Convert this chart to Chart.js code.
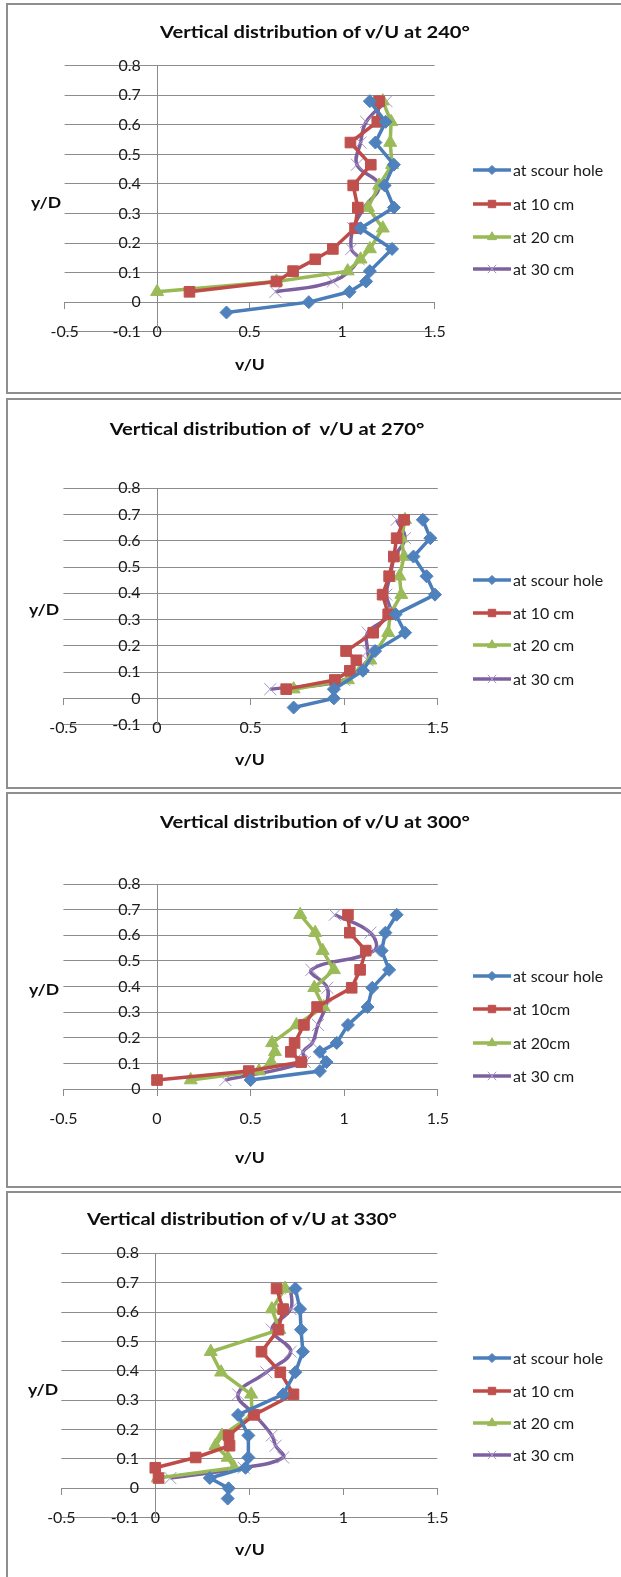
<!DOCTYPE html>
<html>
<head>
<meta charset="utf-8">
<title>Vertical distribution of v/U</title>
<script src="https://cdn.jsdelivr.net/npm/chart.js@4.4.1/dist/chart.umd.min.js"></script>
<style>
  body { margin: 0; background: #fff; }
  #page { position: relative; width: 621px; height: 1577px; overflow: hidden; font-family: Lato, "Open Sans", sans-serif; color: #0d0d0d; }
  .panel { position: absolute; left: 6px; width: 640px; border: 2px solid #8e8e8e; box-sizing: border-box; }
  canvas { position: absolute; left: 0; }
  .title { position: absolute; font-weight: bold; font-size: 17.5px; transform: translate(-50%, -50%) scaleX(1.15); white-space: pre; }
  .axis-title { position: absolute; font-weight: bold; font-size: 16px; transform: translate(-50%, -50%) scaleX(1.1); }
</style>
</head>
<body>
<div id="page">
  <div class="panel" style="top:3px;height:391px"></div>
  <div class="panel" style="top:398px;height:391px"></div>
  <div class="panel" style="top:792px;height:396px"></div>
  <div class="panel" style="top:1191px;height:400px"></div>

  <canvas id="chart240" width="621" height="395" style="top:0px"></canvas>
  <canvas id="chart270" width="621" height="395" style="top:395px"></canvas>
  <canvas id="chart300" width="621" height="399" style="top:790px"></canvas>
  <canvas id="chart330" width="621" height="388" style="top:1189px"></canvas>

  <div class="title" style="left:315px;top:31px">Vertical distribution of v/U at 240°</div>
  <div class="axis-title" style="left:46px;top:201px">y/D</div>
  <div class="axis-title" style="left:250px;top:363px">v/U</div>

  <div class="title" style="left:267px;top:428px">Vertical distribution of  v/U at 270°</div>
  <div class="axis-title" style="left:44px;top:608px">y/D</div>
  <div class="axis-title" style="left:250px;top:758px">v/U</div>

  <div class="title" style="left:315px;top:821px">Vertical distribution of v/U at 300°</div>
  <div class="axis-title" style="left:44px;top:988px">y/D</div>
  <div class="axis-title" style="left:250px;top:1156px">v/U</div>

  <div class="title" style="left:242px;top:1218px">Vertical distribution of v/U at 330°</div>
  <div class="axis-title" style="left:43px;top:1388px">y/D</div>
  <div class="axis-title" style="left:250px;top:1548px">v/U</div>
</div>
<script>
// y/D levels shared by every profile (scour hole also has two points below 0.035)
const DEPTHS = [0.035, 0.07, 0.105, 0.145, 0.18, 0.25, 0.32, 0.395, 0.465, 0.54, 0.61, 0.68];
const DEPTHS_HOLE = [-0.035, 0, 0.035, 0.07, 0.105, 0.145, 0.18, 0.25, 0.32, 0.395, 0.465, 0.54, 0.61, 0.68];

// v/U values, null = no reading at that level
const HOLE_240 = [0.375, 0.82, 1.04, 1.13, 1.15, null, 1.27, 1.10, 1.28, 1.23, 1.28, 1.18, 1.235, 1.15];
const CM10_240 = [0.175, 0.645, 0.735, 0.855, 0.95, 1.07, 1.085, 1.06, 1.155, 1.045, 1.19, 1.20];
const CM20_240 = [0.0, 0.645, 1.03, 1.10, 1.15, 1.22, 1.14, 1.20, 1.27, 1.26, 1.265, 1.22];
const CM30_240 = [0.64, 0.95, null, 1.09, 1.05, 1.06, 1.12, 1.20, 1.08, 1.10, 1.13, 1.24];

const HOLE_270 = [0.73, 0.945, 0.945, null, 1.10, null, 1.165, 1.325, 1.275, 1.485, 1.44, 1.37, 1.46, 1.42];
const CM10_270 = [0.69, 0.95, 1.03, 1.065, 1.01, 1.155, 1.235, 1.205, 1.24, 1.265, 1.28, 1.32];
const CM20_270 = [0.73, 1.02, 1.085, 1.14, null, 1.235, 1.245, 1.305, 1.295, 1.32, 1.305, 1.325];
const CM30_270 = [0.605, 1.0, null, 1.125, 1.125, 1.125, 1.245, 1.225, 1.245, 1.27, 1.325, 1.28];

const HOLE_300 = [null, null, 0.50, 0.87, 0.905, 0.87, 0.96, 1.02, 1.125, 1.15, 1.24, 1.20, 1.22, 1.28];
const CM10_300 = [0.0, 0.49, 0.77, 0.715, 0.735, 0.785, 0.855, 1.04, 1.085, 1.115, 1.03, 1.02];
const CM20_300 = [0.18, 0.545, 0.61, 0.63, 0.615, 0.745, 0.89, 0.84, 0.945, 0.885, 0.845, 0.765];
const CM30_300 = [0.365, null, 0.79, 0.78, 0.83, 0.86, 0.90, 0.91, 0.825, 1.16, 1.14, 0.95];

const HOLE_330 = [0.385, 0.39, 0.29, 0.48, 0.495, null, 0.495, 0.44, 0.68, 0.745, 0.785, 0.775, 0.77, 0.745];
const CM10_330 = [0.017, 0.0, 0.215, 0.395, 0.39, 0.525, 0.735, 0.665, 0.565, 0.655, 0.68, 0.645];
const CM20_330 = [0.013, 0.42, 0.385, 0.32, 0.355, 0.515, 0.51, 0.35, 0.295, 0.66, 0.62, 0.69];
const CM30_330 = [0.08, 0.47, 0.68, 0.64, 0.62, 0.53, 0.44, 0.59, 0.72, 0.62, 0.72, 0.72];

const LABELS_A = ['at scour hole', 'at 10 cm', 'at 20 cm', 'at 30 cm'];
const LABELS_B = ['at scour hole', 'at 10cm', 'at 20cm', 'at 30 cm'];

const X_MIN = -0.5;
const X_MAX = 1.5;
const Y_MAX = 0.8;

const GRID_COLOR = '#8c8c8c';
const TEXT_COLOR = '#1a1a1a';
const FONT = 'Lato';
const TICK_SIZE = 16;

const SERIES_STYLE = [
    { color: '#4a7ebb', point: 'rectRot', radius: 6.5, pointColor: '#4f81bd', pointBorder: '#4f81bd', pointWidth: 1, tension: 0 },
    { color: '#be4b48', point: 'rect', radius: 7.5, pointColor: '#c0504d', pointBorder: '#c0504d', pointWidth: 1, tension: 0 },
    { color: '#98b954', point: 'triangle', radius: 7.5, pointColor: '#9bbb59', pointBorder: '#9bbb59', pointWidth: 1, tension: 0 },
    { color: '#7d60a0', point: 'crossRot', radius: 8.5, pointColor: '#a594c6', pointBorder: '#a594c6', pointWidth: 1, tension: 0.4 },
];

// page-pixel boxes for every panel: canvas top, plot edges, legend rows
const PANELS = [
    { id: 'chart240', top: 0, yMin: -0.1, plot: { l: 64.6, r: 434.6, t: 65.7, b: 331.7 }, rows: [170, 204, 237, 269],
      labels: LABELS_A, series: [[HOLE_240, DEPTHS_HOLE], [CM10_240, DEPTHS], [CM20_240, DEPTHS], [CM30_240, DEPTHS]] },
    { id: 'chart270', top: 395, yMin: -0.1, plot: { l: 63.4, r: 437.8, t: 488.3, b: 724.6 }, rows: [580, 613, 645, 679],
      labels: LABELS_A, series: [[HOLE_270, DEPTHS_HOLE], [CM10_270, DEPTHS], [CM20_270, DEPTHS], [CM30_270, DEPTHS]] },
    { id: 'chart300', top: 790, yMin: 0, plot: { l: 63.4, r: 437.8, t: 884, b: 1089 }, rows: [976, 1009, 1043, 1076],
      labels: LABELS_B, series: [[HOLE_300, DEPTHS_HOLE], [CM10_300, DEPTHS], [CM20_300, DEPTHS], [CM30_300, DEPTHS]] },
    { id: 'chart330', top: 1189, yMin: -0.1, plot: { l: 61.3, r: 437.3, t: 1253.3, b: 1517.7 }, rows: [1358, 1391, 1423, 1455],
      labels: LABELS_A, series: [[HOLE_330, DEPTHS_HOLE], [CM10_330, DEPTHS], [CM20_330, DEPTHS], [CM30_330, DEPTHS]] },
];

const LEGEND_X0 = 473;
const LEGEND_X1 = 511;
const LEGEND_TEXT_X = 513;

// excel style legend: line with the marker in the middle
const excelLegend = {
    id: 'excelLegend',
    afterDraw(chart, args, opts) {
        const ctx = chart.ctx;
        chart.data.datasets.forEach((ds, i) => {
            const y = opts.rows[i];
            ctx.save();
            ctx.strokeStyle = ds.borderColor;
            ctx.lineWidth = ds.borderWidth;
            ctx.beginPath();
            ctx.moveTo(LEGEND_X0, y);
            ctx.lineTo(LEGEND_X1, y);
            ctx.stroke();
            ctx.fillStyle = ds.pointBackgroundColor;
            ctx.strokeStyle = ds.pointBorderColor;
            ctx.lineWidth = ds.pointBorderWidth;
            Chart.helpers.drawPoint(ctx, {
                pointStyle: ds.pointStyle,
                radius: ds.pointRadius * 0.7,
                rotation: 0,
                borderWidth: ds.pointBorderWidth,
            }, (LEGEND_X0 + LEGEND_X1) / 2, y);
            ctx.fillStyle = TEXT_COLOR;
            ctx.font = '16px ' + FONT;
            ctx.textAlign = 'left';
            ctx.textBaseline = 'middle';
            ctx.fillText(ds.label, LEGEND_TEXT_X, y + 1);
            ctx.restore();
        });
    },
};

function toPoints(xs, ys) {
    return xs.map((x, i) => ({ x: x, y: ys[i] }));
}

function createDatasets(panel) {
    return panel.series.map(([xs, ys], i) => {
        const style = SERIES_STYLE[i];
        return {
            label: panel.labels[i],
            data: toPoints(xs, ys),
            showLine: true,
            spanGaps: true,
            borderColor: style.color,
            borderWidth: 3.5,
            tension: style.tension,
            pointStyle: style.point,
            pointRadius: style.radius,
            pointBackgroundColor: style.pointColor,
            pointBorderColor: style.pointBorder,
            pointBorderWidth: style.pointWidth,
            clip: false,
        };
    });
}

function formatTick(value) {
    return String(Math.round(value * 10) / 10);
}

function createChart(panel) {
    const canvas = document.getElementById(panel.id);
    const plot = panel.plot;
    const config = {
        type: 'scatter',
        data: { datasets: createDatasets(panel) },
        plugins: [excelLegend],
        options: {
            responsive: false,
            animation: false,
            devicePixelRatio: 1,
            layout: {
                autoPadding: false,
                padding: {
                    left: plot.l,
                    right: canvas.width - plot.r,
                    top: plot.t - panel.top,
                    bottom: canvas.height - (plot.b - panel.top),
                },
            },
            plugins: {
                legend: { display: false },
                tooltip: { enabled: false },
                excelLegend: { rows: panel.rows.map((r) => r - panel.top) },
            },
            scales: {
                x: {
                    type: 'linear',
                    min: X_MIN,
                    max: X_MAX,
                    position: { y: 0 },
                    ticks: {
                        stepSize: 0.5,
                        padding: 14,
                        autoSkip: false,
                        maxRotation: 0,
                        color: TEXT_COLOR,
                        font: { family: FONT, size: TICK_SIZE },
                        callback: formatTick,
                    },
                    grid: { display: true, drawOnChartArea: false, drawTicks: true, tickLength: 6, tickColor: GRID_COLOR },
                    border: { display: true, color: GRID_COLOR, width: 1 },
                },
                y: {
                    type: 'linear',
                    min: panel.yMin,
                    max: Y_MAX,
                    position: { x: 0 },
                    ticks: {
                        stepSize: 0.1,
                        autoSkip: false,
                        color: TEXT_COLOR,
                        font: { family: FONT, size: TICK_SIZE },
                        callback: (v) => formatTick(v) + '    ',
                    },
                    grid: { color: GRID_COLOR, drawTicks: false, lineWidth: 1 },
                    border: { display: true, color: GRID_COLOR, width: 1 },
                },
            },
        },
    };
    return new Chart(canvas, config);
}

PANELS.forEach(createChart);
</script>
</body>
</html>
